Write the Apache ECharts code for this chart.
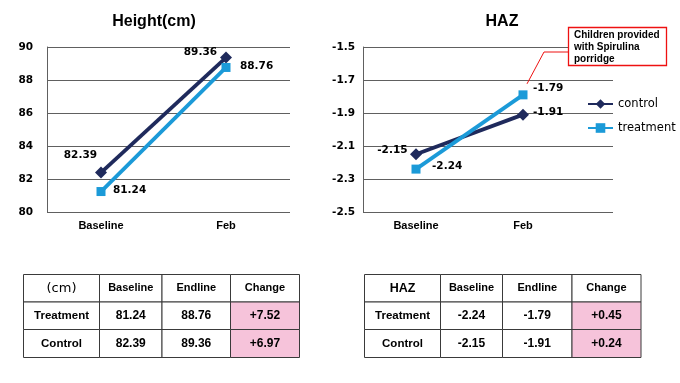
<!DOCTYPE html>
<html>
<head>
<meta charset="utf-8">
<script src="https://cdn.jsdelivr.net/npm/echarts@6/dist/echarts.min.js"></script>
<style>html,body{margin:0;padding:0;background:#fff}#c{width:680px;height:383px}</style>
</head>
<body>
<div id="c"></div>
<script>
// ---- data ----
const categories = ['Baseline', 'Feb'];
const heightControl = [82.39, 89.36];
const heightTreatment = [81.24, 88.76];
const hazControl = [-2.15, -1.91];
const hazTreatment = [-2.24, -1.79];
const heightTicks = { min: 80, max: 90, interval: 2 };
const hazTicks = { min: -2.5, max: -1.5, interval: 0.2 };
const seriesNames = ['control', 'treatment'];
const chartTitles = ['Height(cm)', 'HAZ'];
const tableHeaderHeight = ['(cm)', 'Baseline', 'Endline', 'Change'];
const tableHeaderHaz = ['HAZ', 'Baseline', 'Endline', 'Change'];
const tableRowNames = ['Treatment', 'Control'];
const heightChange = ['+7.52', '+6.97'];
const hazChange = ['+0.45', '+0.24'];
const annotationText = 'Children provided\nwith Spirulina\nporridge';

// ---- styles ----
const C_CONTROL = '#1f2a5c';
const C_TREAT = '#1b9ad8';
const GRID_C = '#606060';
const NUM_FONT = 'DejaVu Sans';
const WORD_FONT = 'Liberation Sans';

const chart = echarts.init(document.getElementById('c'), null, { renderer: 'canvas' });

function lbl(dx, dy, align) {
  return { show: true, position: 'inside', align: align, verticalAlign: 'middle', offset: [dx, dy],
    color: '#000', fontFamily: NUM_FONT, fontWeight: 'bold', fontSize: 10.5,
    formatter: p => p.value.toFixed(2) };
}
function withLabels(values, cfgs) {
  return values.map((v, i) => ({ value: v, label: cfgs[i] }));
}
function lineSeries(name, data, xi, color, symbol, size) {
  return { type: 'line', name: name, xAxisIndex: xi, yAxisIndex: xi, data: data,
    symbol: symbol, symbolSize: size, lineStyle: { color: color, width: 3.8 },
    itemStyle: { color: color }, emphasis: { disabled: true }, z: 3 };
}

const yLabelStyle = { color: '#000', fontFamily: NUM_FONT, fontWeight: 'bold', fontSize: 10.5 };
const catLabelStyle = { color: '#000', fontFamily: WORD_FONT, fontWeight: 'bold', fontSize: 11, margin: 8 };

const option = {
  animation: false,
  backgroundColor: '#fff',
  grid: [
    { left: 38.5, top: 47, width: 250, height: 165 },   // height series
    { left: 47, top: 47, width: 243, height: 165 },     // height frame
    { left: 362.5, top: 47, width: 214, height: 165 },  // haz series
    { left: 363, top: 47, width: 250, height: 165 }     // haz frame
  ],
  xAxis: [
    { type: 'category', gridIndex: 0, data: categories, axisLine: { show: false }, axisTick: { show: false }, axisLabel: catLabelStyle },
    { type: 'value', gridIndex: 1, show: false, min: 0, max: 1 },
    { type: 'category', gridIndex: 2, data: categories, axisLine: { show: false }, axisTick: { show: false }, axisLabel: catLabelStyle },
    { type: 'value', gridIndex: 3, show: false, min: 0, max: 1 }
  ],
  yAxis: [
    { type: 'value', gridIndex: 0, show: false, min: heightTicks.min, max: heightTicks.max },
    { type: 'value', gridIndex: 1, min: heightTicks.min, max: heightTicks.max, interval: heightTicks.interval,
      axisLine: { show: true, lineStyle: { color: GRID_C } }, axisTick: { show: false },
      splitLine: { lineStyle: { color: GRID_C, width: 1 } },
      axisLabel: Object.assign({ margin: 14 }, yLabelStyle) },
    { type: 'value', gridIndex: 2, show: false, min: hazTicks.min, max: hazTicks.max },
    { type: 'value', gridIndex: 3, min: hazTicks.min, max: hazTicks.max, interval: hazTicks.interval,
      axisLine: { show: true, lineStyle: { color: GRID_C } }, axisTick: { show: false },
      splitLine: { lineStyle: { color: GRID_C, width: 1 } },
      axisLabel: Object.assign({ margin: 8, formatter: v => v.toFixed(1) }, yLabelStyle) }
  ],
  legend: {
    orient: 'vertical', left: 587, top: 98, padding: 0, itemWidth: 25, itemHeight: 12, itemGap: 12,
    data: seriesNames,
    textStyle: { color: '#000', fontFamily: NUM_FONT, fontSize: 11.5 }
  },
  series: [
    lineSeries(seriesNames[0], withLabels(heightControl, [lbl(-4, -17, 'right'), lbl(-9, -5, 'right')]), 0, C_CONTROL, 'diamond', 12),
    lineSeries(seriesNames[1], withLabels(heightTreatment, [lbl(12, -1, 'left'), lbl(14, -1, 'left')]), 0, C_TREAT, 'rect', 9),
    lineSeries(seriesNames[0], withLabels(hazControl, [lbl(-8.5, -4, 'right'), lbl(10, -2, 'left')]), 2, C_CONTROL, 'diamond', 12),
    lineSeries(seriesNames[1], withLabels(hazTreatment, [lbl(16, -3, 'left'), lbl(10, -7, 'left')]), 2, C_TREAT, 'rect', 9)
  ]
};
chart.setOption(option);

// ---- graphics: titles, annotation, tables ----
const g = [];
g.push({ type: 'text', x: 154, y: 14, style: { text: chartTitles[0], fill: '#000', font: 'bold 16px "Liberation Sans"', align: 'center' } });
g.push({ type: 'text', x: 502, y: 14, style: { text: chartTitles[1], fill: '#000', font: 'bold 16px "Liberation Sans"', align: 'center' } });

// annotation pointing to treatment Feb point
const pt = chart.convertToPixel({ xAxisIndex: 2, yAxisIndex: 2 }, [categories[1], hazTreatment[1]]);
g.push({ type: 'polyline', shape: { points: [[568, 52], [544, 52], [pt[0] + 4, pt[1] - 11]] }, style: { stroke: '#ee1111', lineWidth: 1, fill: null }, z: 10 });
g.push({ type: 'rect', shape: { x: 568.5, y: 27.5, width: 98, height: 38 }, style: { fill: '#fff', stroke: '#ee1111', lineWidth: 1.3 }, z: 10 });
g.push({ type: 'text', x: 574, y: 29, z: 11, style: { text: annotationText, fill: '#000', font: 'bold 10px "Liberation Sans"', lineHeight: 12 } });

function table(colX, header, base, end, change, headerFont) {
  const rowY = [274.5, 302, 329.5, 357.5];
  for (let r = 0; r < 3; r++) {
    for (let c = 0; c < 4; c++) {
      const pink = r > 0 && c === 3;
      g.push({ type: 'rect', shape: { x: colX[c], y: rowY[r], width: colX[c + 1] - colX[c], height: rowY[r + 1] - rowY[r] },
        style: { fill: pink ? '#f6c3da' : '#fff', stroke: '#3a3a3a', lineWidth: 1 }, z: 1 });
      let txt, font;
      if (r === 0) {
        txt = header[c];
        font = c === 0 ? headerFont : 'bold 11px "Liberation Sans"';
      } else {
        const i = r - 1;
        txt = [tableRowNames[i], base[i].toFixed(2), end[i].toFixed(2), change[i]][c];
        font = c === 0 ? 'bold 11.5px "Liberation Sans"' : 'bold 12px "Liberation Sans"';
      }
      g.push({ type: 'text', x: (colX[c] + colX[c + 1]) / 2, y: (rowY[r] + rowY[r + 1]) / 2, z: 2,
        style: { text: txt, fill: '#000', font: font, align: 'center', verticalAlign: 'middle' } });
    }
  }
}
table([23.5, 99.5, 162, 230.5, 299.5], tableHeaderHeight,
  [heightTreatment[0], heightControl[0]], [heightTreatment[1], heightControl[1]], heightChange, '13px "DejaVu Sans"');
table([364.5, 440.5, 502.5, 572, 641], tableHeaderHaz,
  [hazTreatment[0], hazControl[0]], [hazTreatment[1], hazControl[1]], hazChange, 'bold 12.5px "Liberation Sans"');

chart.setOption({ graphic: { elements: g } });
</script>
</body>
</html>
